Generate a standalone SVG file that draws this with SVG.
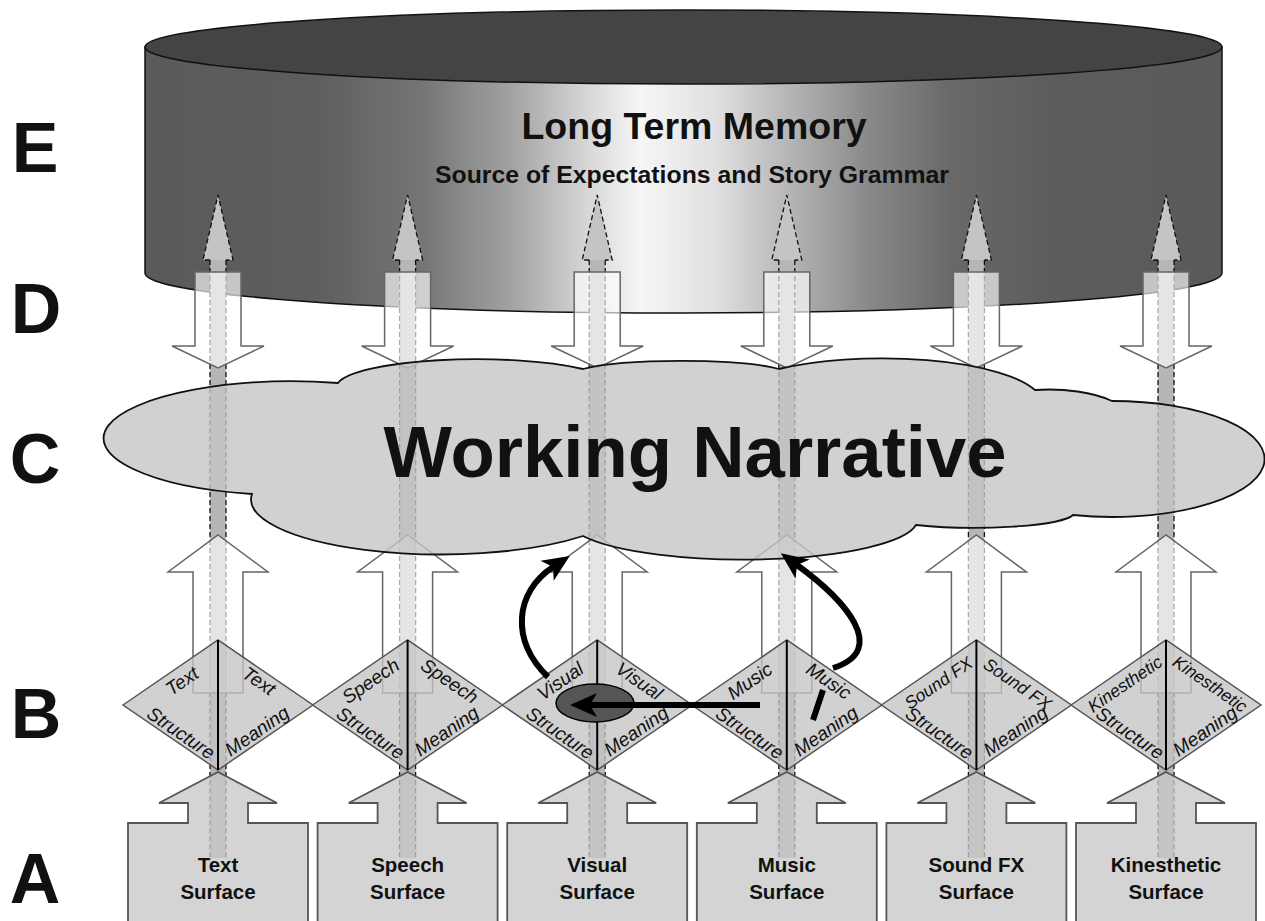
<svg xmlns="http://www.w3.org/2000/svg" xmlns:xlink="http://www.w3.org/1999/xlink" width="1265" height="921" viewBox="0 0 1265 921">
  <style>
    .hollow { fill:#ffffff; fill-opacity:.65; stroke:#666; stroke-width:1.5; }
    .bar-fill { fill:#b6b6b6; }
    .bar-head { fill:#c4c4c4; }
    .bar-dash { fill:none; stroke:#111; stroke-width:1.3; stroke-dasharray:5 3; }
    .diamond { fill:#c4c4c4; fill-opacity:.78; stroke:#555; stroke-width:1.5; }
    .divider { stroke:#000; stroke-width:2; }
    .surface { fill:#c8c8c8; fill-opacity:.78; stroke:#555; stroke-width:1.8; }
    .cloud { fill:#c6c6c6; fill-opacity:.8; stroke:#111; stroke-width:1.8; }
    .feedback { fill:none; stroke:#000; stroke-width:6; }
    .level { font-family:"Liberation Sans", Arial, sans-serif; font-weight:bold; font-size:70px; fill:#111; text-anchor:middle; }
    .surf { font-family:"Liberation Sans", Arial, sans-serif; font-weight:bold; font-size:20.5px; fill:#111; text-anchor:middle; }
    .dl { font-family:"Liberation Sans", Arial, sans-serif; font-style:italic; font-size:19px; fill:#111; text-anchor:middle; dominant-baseline:central; }
    .dl-long { font-size:17.5px; }
    .title { font-family:"Liberation Sans", Arial, sans-serif; font-weight:bold; fill:#111; text-anchor:middle; }
  </style>
  <defs>
    <linearGradient id="drum" x1="145" y1="0" x2="1222" y2="0" gradientUnits="userSpaceOnUse">
      <stop offset="0" stop-color="#5a5a5a"/>
      <stop offset="0.16" stop-color="#5e5e5e"/>
      <stop offset="0.26" stop-color="#767676"/>
      <stop offset="0.34" stop-color="#a2a2a2"/>
      <stop offset="0.41" stop-color="#d6d6d6"/>
      <stop offset="0.46" stop-color="#f6f6f6"/>
      <stop offset="0.53" stop-color="#e0e0e0"/>
      <stop offset="0.60" stop-color="#b4b4b4"/>
      <stop offset="0.67" stop-color="#8a8a8a"/>
      <stop offset="0.75" stop-color="#686868"/>
      <stop offset="0.85" stop-color="#5c5c5c"/>
      <stop offset="1" stop-color="#5a5a5a"/>
    </linearGradient>
    <marker id="head" markerUnits="userSpaceOnUse" markerWidth="28" markerHeight="26" viewBox="0 0 28 26" refX="7" refY="13" orient="auto">
      <path d="M0,1 L27,13 L0,25 L7,13 Z" fill="#000"/>
    </marker>
    <!-- through-arrow: shaded bar with a dashed outline and head -->
    <g id="through-bar">
      <rect x="-8" y="260" width="16" height="598" class="bar-fill"/>
      <path d="M-15,260 L0,195 L15,260 Z" class="bar-head"/>
      <path d="M-8,260 V858 M8,260 V858 M-8,260 H-15 L0,195 L15,260 H8" class="bar-dash"/>
    </g>
    <path id="down-arrow" class="hollow" d="M-23,272 H23 V346 H46 L0,368 L-46,346 H-23 Z"/>
    <path id="up-arrow" class="hollow" d="M-25,693 V572 H-50 L0,535 L50,572 H25 V693 Z"/>
    <g id="diamond">
      <path class="diamond" d="M-95,705 L0,640 L95,705 L0,770 Z"/>
      <path class="divider" d="M0,640 V770"/>
    </g>
    <path id="surface" class="surface" d="M-90,935 V823 H-30 V803 H-59 L0,772 L59,803 H30 V823 H90 V935 Z"/>
  </defs>

  <rect width="1265" height="921" fill="#ffffff"/>

  <!-- E: long term memory drum -->
  <g id="ltm">
    <path d="M145,47 V273 A538.5,40 0 0 0 1222,273 V47 Z" fill="url(#drum)" stroke="#111" stroke-width="1.5"/>
    <ellipse cx="683.5" cy="47" rx="538.5" ry="37" fill="#444" stroke="#111" stroke-width="1.5"/>
    <text class="title" x="694" y="139" font-size="37.5px">Long Term Memory</text>
    <text class="title" x="692" y="183" font-size="24.8px">Source of Expectations and Story Grammar</text>
  </g>

  <!-- connectors between levels -->
  <g id="connectors">
    <g id="through-arrows">
      <use xlink:href="#through-bar" transform="translate(218,0)"/>
      <use xlink:href="#through-bar" transform="translate(407.6,0)"/>
      <use xlink:href="#through-bar" transform="translate(597.2,0)"/>
      <use xlink:href="#through-bar" transform="translate(786.8,0)"/>
      <use xlink:href="#through-bar" transform="translate(976.4,0)"/>
      <use xlink:href="#through-bar" transform="translate(1166,0)"/>
    </g>
    <g id="memory-to-narrative">
      <use xlink:href="#down-arrow" transform="translate(218,0)"/>
      <use xlink:href="#down-arrow" transform="translate(407.6,0)"/>
      <use xlink:href="#down-arrow" transform="translate(597.2,0)"/>
      <use xlink:href="#down-arrow" transform="translate(786.8,0)"/>
      <use xlink:href="#down-arrow" transform="translate(976.4,0)"/>
      <use xlink:href="#down-arrow" transform="translate(1166,0)"/>
    </g>
    <g id="channel-to-narrative">
      <use xlink:href="#up-arrow" transform="translate(218,0)"/>
      <use xlink:href="#up-arrow" transform="translate(407.6,0)"/>
      <use xlink:href="#up-arrow" transform="translate(597.2,0)"/>
      <use xlink:href="#up-arrow" transform="translate(786.8,0)"/>
      <use xlink:href="#up-arrow" transform="translate(976.4,0)"/>
      <use xlink:href="#up-arrow" transform="translate(1166,0)"/>
    </g>
  </g>

  <!-- C: working narrative cloud -->
  <g id="working-narrative">
    <path class="cloud" d="M252,494 A189,57 0 1 1 338,383 A140,28 0 0 1 583,369 A110,15 0 0 1 779,369 A160,45 0 0 1 1035,390 A80,30 0 0 1 1112,401 A152,58 0 1 1 1073,515 A100,15 0 0 1 916,525 A175,40 0 0 1 583,536 A190,55 0 0 1 252,494 Z"/>
    <text class="title" x="695" y="477" font-size="72.5px">Working Narrative</text>
  </g>

  <!-- B: structure / meaning diamonds -->
  <g id="b-text" transform="translate(218,0)">
    <use xlink:href="#diamond"/>
    <text class="dl" transform="translate(-36,681) rotate(-34.4)">Text</text>
    <text class="dl" transform="translate(41,681) rotate(34.4)">Text</text>
    <text class="dl" transform="translate(-37,733) rotate(34.4)">Structure</text>
    <text class="dl" transform="translate(39,731) rotate(-34.4)">Meaning</text>
  </g>
  <g id="b-speech" transform="translate(407.6,0)">
    <use xlink:href="#diamond"/>
    <text class="dl" transform="translate(-37,681) rotate(-34.4)">Speech</text>
    <text class="dl" transform="translate(42,681) rotate(34.4)">Speech</text>
    <text class="dl" transform="translate(-37,733) rotate(34.4)">Structure</text>
    <text class="dl" transform="translate(39,731) rotate(-34.4)">Meaning</text>
  </g>
  <g id="b-visual" transform="translate(597.2,0)">
    <use xlink:href="#diamond"/>
    <text class="dl" transform="translate(-37,681) rotate(-34.4)">Visual</text>
    <text class="dl" transform="translate(42,681) rotate(34.4)">Visual</text>
    <text class="dl" transform="translate(-37,733) rotate(34.4)">Structure</text>
    <text class="dl" transform="translate(39,731) rotate(-34.4)">Meaning</text>
  </g>
  <g id="b-music" transform="translate(786.8,0)">
    <use xlink:href="#diamond"/>
    <text class="dl" transform="translate(-37,681) rotate(-34.4)">Music</text>
    <text class="dl" transform="translate(42,681) rotate(34.4)">Music</text>
    <text class="dl" transform="translate(-37,733) rotate(34.4)">Structure</text>
    <text class="dl" transform="translate(39,731) rotate(-34.4)">Meaning</text>
  </g>
  <g id="b-soundfx" transform="translate(976.4,0)">
    <use xlink:href="#diamond"/>
    <text class="dl dl-long" transform="translate(-38,683) rotate(-34.4)">Sound FX</text>
    <text class="dl dl-long" transform="translate(41,684) rotate(34.4)">Sound FX</text>
    <text class="dl" transform="translate(-37,733) rotate(34.4)">Structure</text>
    <text class="dl" transform="translate(39,731) rotate(-34.4)">Meaning</text>
  </g>
  <g id="b-kinesthetic" transform="translate(1166,0)">
    <use xlink:href="#diamond"/>
    <text class="dl dl-long" transform="translate(-41,684) rotate(-34.4)">Kinesthetic</text>
    <text class="dl dl-long" transform="translate(44,684) rotate(34.4)">Kinesthetic</text>
    <text class="dl" transform="translate(-36,733) rotate(34.4)">Structure</text>
    <text class="dl" transform="translate(39,731) rotate(-34.4)">Meaning</text>
  </g>

  <!-- A: surface inputs -->
  <g id="a-text" transform="translate(218,0)">
    <use xlink:href="#surface"/>
    <text class="surf" x="0" y="872">Text</text>
    <text class="surf" x="0" y="899">Surface</text>
  </g>
  <g id="a-speech" transform="translate(407.6,0)">
    <use xlink:href="#surface"/>
    <text class="surf" x="0" y="872">Speech</text>
    <text class="surf" x="0" y="899">Surface</text>
  </g>
  <g id="a-visual" transform="translate(597.2,0)">
    <use xlink:href="#surface"/>
    <text class="surf" x="0" y="872">Visual</text>
    <text class="surf" x="0" y="899">Surface</text>
  </g>
  <g id="a-music" transform="translate(786.8,0)">
    <use xlink:href="#surface"/>
    <text class="surf" x="0" y="872">Music</text>
    <text class="surf" x="0" y="899">Surface</text>
  </g>
  <g id="a-soundfx" transform="translate(976.4,0)">
    <use xlink:href="#surface"/>
    <text class="surf" x="0" y="872">Sound FX</text>
    <text class="surf" x="0" y="899">Surface</text>
  </g>
  <g id="a-kinesthetic" transform="translate(1166,0)">
    <use xlink:href="#surface"/>
    <text class="surf" x="0" y="872">Kinesthetic</text>
    <text class="surf" x="0" y="899">Surface</text>
  </g>

  <!-- cross-channel feedback arrows -->
  <g id="feedback-connectors">
    <ellipse cx="595" cy="703" rx="39" ry="19" fill="#555" stroke="#000" stroke-width="1.5"/>
    <path class="feedback" d="M760,705 H590" marker-end="url(#head)"/>
    <path class="feedback" d="M548,677 C510,640 515,592 553,567" marker-end="url(#head)"/>
    <path class="feedback" d="M833,668 C890,650 845,600 797,565" marker-end="url(#head)"/>
    <path class="feedback" d="M823,690 L813,720"/>
  </g>

  <!-- level letters -->
  <g id="levels">
    <text class="level" x="35" y="172">E</text>
    <text class="level" x="36" y="333">D</text>
    <text class="level" x="35" y="483">C</text>
    <text class="level" x="36" y="738">B</text>
    <text class="level" x="35" y="903">A</text>
  </g>
</svg>
